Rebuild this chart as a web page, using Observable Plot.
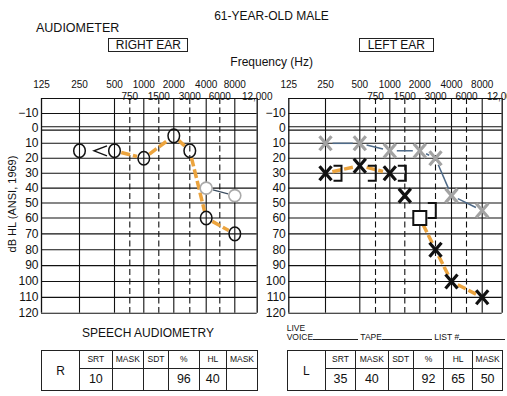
<!DOCTYPE html>
<html><head><meta charset="utf-8">
<script src="https://cdn.jsdelivr.net/npm/d3@7"></script>
<script src="https://cdn.jsdelivr.net/npm/@observablehq/plot@0.6"></script>
<style>
body{margin:0;background:#fff;}
#page{position:relative;width:507px;height:396px;overflow:hidden;font-family:"Liberation Sans",Arial,Helvetica,sans-serif;color:#111;background:#fff}
.t{position:absolute;white-space:nowrap;transform:translate(-50%,-50%);line-height:1}
.tl{position:absolute;white-space:nowrap;transform:translate(0,-50%);line-height:1}
.box{position:absolute;border:1px solid #222;box-sizing:border-box;display:flex;align-items:center;justify-content:center;font-size:12px;line-height:1}
.panel{position:absolute;top:0;background:transparent}
table.sp{position:absolute;border-collapse:collapse;table-layout:fixed;}
table.sp td{border:1.2px solid #222;padding:0;text-align:center;overflow:hidden;white-space:nowrap;line-height:1}
table.sp td.h{font-size:8.5px}
table.sp td.v{font-size:12.5px}
table.sp td.e{font-size:12px}
.ul{display:inline-block;border-bottom:1px solid #222;height:6px;vertical-align:baseline}
</style></head><body><div id="page"></div>
<script>
// ---- axis / tick data ----
const freqGrid = [125,250,500,750,1000,1500,2000,3000,4000,6000,8000,12000];
const topFreqs = [125,250,500,1000,2000,4000,8000];
const topLabels = ["125","250","500","1000","2000","4000","8000"];
const lowFreqs = [750,1500,3000,6000,12000];
const lowLabels = ["750","1500","3000","6000","12,000"];
const octaveFreqs = [250,500,1000,2000,4000,8000];
const halfFreqs = [750,1500,3000,6000];
const edgeFreqs = [125,12000];
const dbTicks = [-10,0,10,20,30,40,50,60,70,80,90,100,110,120];
const dbLines = [-20,-10,10,20,30,40,50,60,70,80,90,100,110,120];

// ---- right ear ----
const rAirFreq = [250,500,1000,2000,3000,4000,8000];
const rAirDb   = [15,15,20,5,15,60,70];
const rGrayFreq = [4000,8000];
const rGrayDb   = [40,45];
const rBoneFreq = [500];
const rBoneDb   = [15];
const rPathFreq = [500,1000,2000,3000,4000,8000];
const rPathDb   = [15,20,5,15,60,70];

// ---- left ear ----
const lGrayFreq = [250,500,1000,2000,3000,4000,8000];
const lGrayDb   = [10,10,15,15,20,45,55];
const lAirFreq  = [250,500,1000,1500,3000,4000,8000];
const lAirDb    = [30,25,30,45,80,100,110];
const lMaskFreq = [2000];
const lMaskDb   = [60];
const lBoneFreq = [250,500,1000,2000];
const lBoneDb   = [30,30,30,55];
const lPath1Freq = [250,500,1000];
const lPath1Db   = [30,25,30];
const lPath2Freq = [2000,3000,4000,8000];
const lPath2Db   = [60,80,100,110];

// ---- speech audiometry ----
const speechHeaders = ["SRT","MASK","SDT","%","HL","MASK"];
const rightSpeech = ["10","","","96","40",""];
const leftSpeech  = ["35","40","","92","65","50"];

// helpers
const pts = (f, d) => f.map((x, i) => ({x, y: d[i]}));
const segs = (f, d) => f.slice(1).map((x, i) => ({x1: f[i], y1: d[i], x2: x, y2: d[i + 1]}));
const ellipse = (rx, ry) => ({draw(c) {
  const k = 0.5523;
  c.moveTo(rx, 0);
  c.bezierCurveTo(rx, ry * k, rx * k, ry, 0, ry);
  c.bezierCurveTo(-rx * k, ry, -rx, ry * k, -rx, 0);
  c.bezierCurveTo(-rx, -ry * k, -rx * k, -ry, 0, -ry);
  c.bezierCurveTo(rx * k, -ry, rx, -ry * k, rx, 0);
  c.closePath();
}});
const cross = {draw(c) { c.moveTo(-6, -7); c.lineTo(6, 7); c.moveTo(6, -7); c.lineTo(-6, 7); }};
const bracket = {draw(c) { c.moveTo(-4, -7.5); c.lineTo(4, -7.5); c.lineTo(4, 7.5); c.lineTo(-4, 7.5); }};
const chevron = {draw(c) { c.moveTo(6.5, -5); c.lineTo(-6.5, 0); c.lineTo(6.5, 5); }};
const square = {draw(c) { c.rect(-6.5, -7, 13, 14); }};

const ORANGE = "#eca43e";
const INK = "#111";

function panel(width, xr, marks) {
  return Plot.plot({
    width, height: 320,
    marginTop: 98, marginBottom: 7.3,
    marginLeft: xr[0], marginRight: width - xr[xr.length - 1],
    x: {type: "linear", domain: freqGrid, range: xr, axis: null},
    y: {type: "linear", domain: [-20, 60, 120], range: [98, 217.5, 312.7], axis: null},
    style: {fontFamily: '"Liberation Sans",Arial,sans-serif', fontSize: "12px", color: INK, background: "transparent", overflow: "visible"},
    marks: [
      Plot.ruleY(dbLines, {stroke: INK, strokeWidth: 1.1}),
      Plot.ruleY([0], {stroke: INK, strokeWidth: 1.1, dy: -1.7}),
      Plot.ruleY([0], {stroke: INK, strokeWidth: 1.1, dy: 1.7}),
      Plot.ruleX(octaveFreqs, {stroke: INK, strokeWidth: 1.1}),
      Plot.ruleX(halfFreqs, {stroke: INK, strokeWidth: 1.1, strokeDasharray: "6,3.5"}),
      Plot.ruleX(edgeFreqs, {stroke: INK, strokeWidth: 1.3}),
      Plot.text(dbTicks, {y: d => d, text: d => d3.format("")(d).replace("-", "\u2212"), frameAnchor: "left", dx: -3, textAnchor: "end", fontSize: 12}),
      Plot.text(topFreqs.map((f, i) => ({f, s: topLabels[i]})), {x: "f", text: "s", frameAnchor: "top", dy: -18, fontSize: 10}),
      Plot.text(lowFreqs.map((f, i) => ({f, s: lowLabels[i]})), {x: "f", text: "s", frameAnchor: "top", dy: -6, fontSize: 10}),
      ...marks
    ]
  });
}
const link = (data, stroke, strokeWidth, dash) => Plot.arrow(data, {
  x1: "x1", y1: "y1", x2: "x2", y2: "y2", stroke, strokeWidth,
  strokeDasharray: dash, headLength: 0, insetStart: 7, insetEnd: 7, strokeLinecap: "butt"
});

const right = panel(276, [41,79,114,129.3,143.3,158.3,173.3,189.3,205.7,219.3,234.3,256.7], [
  link(segs(rGrayFreq, rGrayDb), "#3b4d60", 1.2),
  link(segs(rPathFreq, rPathDb), ORANGE, 3.5, "9,3"),
  Plot.dot(pts(rGrayFreq, rGrayDb), {x: "x", y: "y", symbol: ellipse(6, 6), fill: "white", stroke: "#aaaaaa", strokeWidth: 1.6}),
  Plot.dot(pts(rAirFreq, rAirDb), {x: "x", y: "y", symbol: ellipse(5.8, 6.8), fill: "none", stroke: INK, strokeWidth: 1.5}),
  Plot.dot(pts(rBoneFreq, rBoneDb), {x: "x", y: "y", symbol: chevron, dx: -14, fill: "none", stroke: INK, strokeWidth: 1.4})
]);
const left = panel(245, [26.3,63,97.3,113,127.3,142.3,157.3,173,189,204,219.7,239.7], [
  link(segs(lGrayFreq, lGrayDb), "#4e6a88", 1.5),
  link(segs(lPath1Freq, lPath1Db), ORANGE, 3.5, "9,3"),
  link(segs(lPath2Freq, lPath2Db), ORANGE, 3.5, "9,3"),
  Plot.dot(pts(lGrayFreq, lGrayDb), {x: "x", y: "y", symbol: cross, fill: "none", stroke: "#a3a3a3", strokeWidth: 3.2}),
  Plot.dot(pts(lAirFreq, lAirDb), {x: "x", y: "y", symbol: cross, fill: "none", stroke: INK, strokeWidth: 3.2}),
  Plot.dot(pts(lMaskFreq, lMaskDb), {x: "x", y: "y", symbol: square, fill: "white", stroke: INK, strokeWidth: 2}),
  Plot.dot(pts(lBoneFreq, lBoneDb), {x: "x", y: "y", symbol: bracket, dx: 12, fill: "none", stroke: INK, strokeWidth: 2})
]);

const page = document.getElementById("page");
right.classList.add("panel"); right.style.left = "0px";
left.classList.add("panel"); left.style.left = "262px"; left.style.overflow = "hidden";
page.appendChild(left);
page.appendChild(right);

function addText(cls, x, y, txt, size, extra) {
  const d = document.createElement("div");
  d.className = cls; d.style.left = x + "px"; d.style.top = y + "px";
  d.style.fontSize = size + "px"; d.textContent = txt;
  if (extra) Object.assign(d.style, extra);
  page.appendChild(d); return d;
}
addText("t", 271.5, 16, "61-YEAR-OLD MALE", 12);
addText("tl", 36, 27.5, "AUDIOMETER", 12.5);
addText("t", 271.7, 62, "Frequency (Hz)", 12);
addText("t", 12, 204, "dB HL (ANSI, 1969)", 11, {transform: "translate(-50%,-50%) rotate(-90deg)"});
addText("t", 148, 333, "SPEECH AUDIOMETRY", 12);

function addBox(x, y, w, h, txt) {
  const d = document.createElement("div");
  d.className = "box";
  Object.assign(d.style, {left: x + "px", top: y + "px", width: w + "px", height: h + "px"});
  d.textContent = txt; page.appendChild(d);
}
addBox(108.3, 37.7, 80, 14.5, "RIGHT EAR");
addBox(359, 37.5, 74.5, 14.5, "LEFT EAR");

// live voice line
const lv = document.createElement("div");
Object.assign(lv.style, {position: "absolute", left: "286.7px", top: "324px", fontSize: "8.5px", lineHeight: "8.5px", whiteSpace: "nowrap"});
lv.innerHTML = 'LIVE<br>VOICE<span class="ul" style="width:45px"></span> TAPE<span class="ul" style="width:50px"></span> LIST #<span class="ul" style="width:46px"></span>';
page.appendChild(lv);

function addTable(x, y, widths, ear, values) {
  const t = document.createElement("table");
  t.className = "sp";
  Object.assign(t.style, {left: x + "px", top: y + "px", width: d3.sum(widths) + "px"});
  const cg = document.createElement("colgroup");
  widths.forEach(w => { const c = document.createElement("col"); c.style.width = w + "px"; cg.appendChild(c); });
  t.appendChild(cg);
  const r1 = document.createElement("tr"); r1.style.height = "18px";
  const e = document.createElement("td"); e.rowSpan = 2; e.className = "e"; e.textContent = ear; r1.appendChild(e);
  speechHeaders.forEach(h => { const td = document.createElement("td"); td.className = "h"; td.textContent = h; r1.appendChild(td); });
  const r2 = document.createElement("tr"); r2.style.height = "22px";
  values.forEach(v => { const td = document.createElement("td"); td.className = "v"; td.textContent = v; r2.appendChild(td); });
  t.appendChild(r1); t.appendChild(r2);
  page.appendChild(t);
}
addTable(41, 350, [38, 32.7, 31.3, 25, 30.7, 27.3, 31], "R", rightSpeech);
addTable(286.7, 350, [38.3, 30, 32.7, 25, 30.6, 28.7, 30.3], "L", leftSpeech);
</script>
</body></html>
